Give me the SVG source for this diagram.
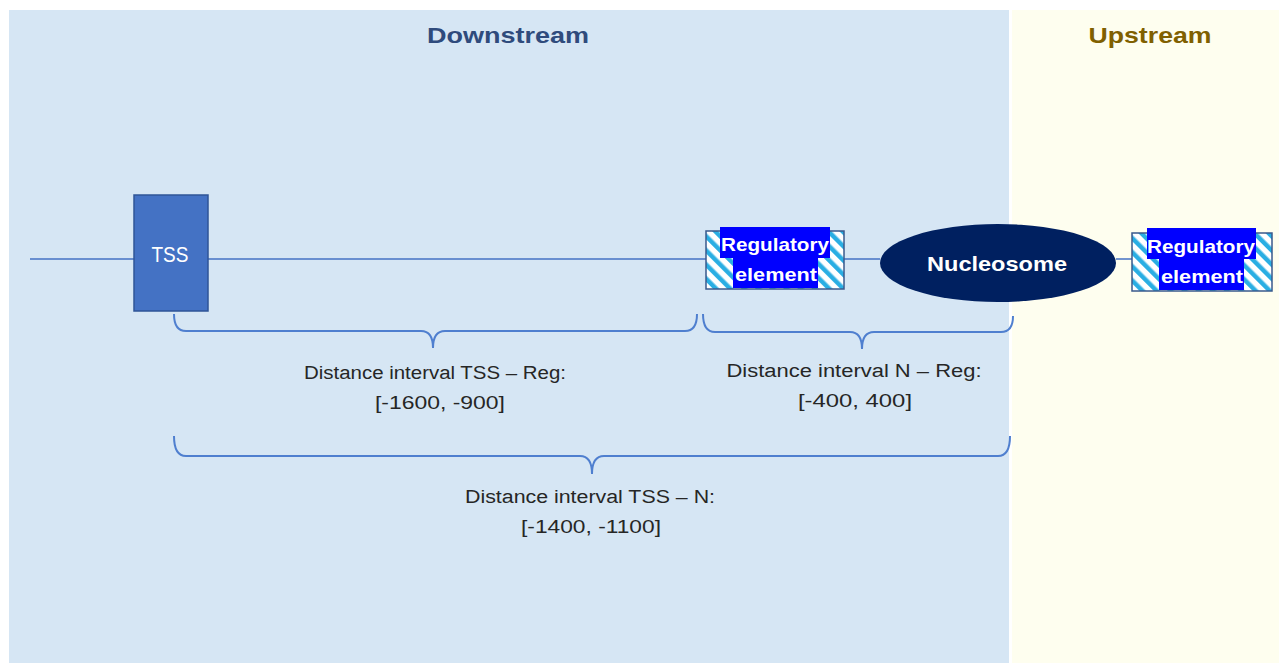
<svg xmlns="http://www.w3.org/2000/svg" width="1279" height="663" viewBox="0 0 1279 663">
<style>
.lbl{font-family:"Liberation Sans",Arial,sans-serif;font-size:18px;fill:#262626;text-anchor:middle}
.head{font-family:"Liberation Sans",Arial,sans-serif;font-size:22px;font-weight:bold;text-anchor:middle}
.wt{font-family:"Liberation Sans",Arial,sans-serif;fill:#ffffff;text-anchor:middle}
.brace{fill:none;stroke:#4F7FCF;stroke-width:2}
.line{stroke:#4472C4;stroke-width:1.5}
.hl{fill:#0000FF}
</style>
<defs>
<pattern id="hatch" patternUnits="userSpaceOnUse" width="10" height="10" patternTransform="rotate(-45)">
<rect width="10" height="10" fill="#ffffff"/>
<rect x="0" y="0" width="4.5" height="10" fill="#2AAEE3"/>
</pattern>
</defs>
<rect x="0" y="0" width="1279" height="663" fill="#ffffff"/>
<rect x="9" y="10" width="1000" height="653" fill="#D6E6F4"/>
<rect x="1012" y="10" width="267" height="653" fill="#FEFEEF"/>
<text class="head" x="508" y="43" fill="#2F4B7C" textLength="162" lengthAdjust="spacingAndGlyphs">Downstream</text>
<text class="head" x="1150" y="43" fill="#806000" textLength="123" lengthAdjust="spacingAndGlyphs">Upstream</text>
<g id="connectors">
<line class="line" x1="30" y1="259" x2="134" y2="259"/>
<line class="line" x1="208" y1="259" x2="706" y2="259"/>
<line class="line" x1="844" y1="259" x2="880" y2="259"/>
<line class="line" x1="1116" y1="259" x2="1132" y2="259"/>
<path class="brace" d="M174,314 Q174,331 186,331 L421,331 Q433,331 433,348 Q433,331 445,331 L685,331 Q697,331 697,314"/>
<path class="brace" d="M703,314 Q703,332 715,332 L850,332 Q862,332 862,349 Q862,332 874,332 L1001,332 Q1013,332 1013,316"/>
<path class="brace" d="M174,436 Q174,456 186,456 L580,456 Q592,456 592,474 Q592,456 604,456 L998,456 Q1010,456 1010,436"/>
</g>
<g id="tss">
<rect x="134" y="195" width="74" height="116" fill="#4472C4" stroke="#2F5597" stroke-width="1.5"/>
<text class="wt" x="170" y="262" font-size="22" textLength="37" lengthAdjust="spacingAndGlyphs">TSS</text>
</g>
<g id="reg1">
<rect x="706" y="231" width="138" height="58" fill="url(#hatch)" stroke="#3A5A8C" stroke-width="1.5"/>
<rect class="hl" x="720" y="227" width="110" height="31"/>
<rect class="hl" x="733" y="258" width="85" height="30"/>
<text class="wt" x="775" y="251" font-size="19" font-weight="bold" textLength="108" lengthAdjust="spacingAndGlyphs">Regulatory</text>
<text class="wt" x="776" y="281" font-size="19" font-weight="bold" textLength="82" lengthAdjust="spacingAndGlyphs">element</text>
</g>
<g id="nucleosome">
<ellipse cx="998" cy="263" rx="118" ry="39" fill="#002060"/>
<text class="wt" x="997" y="271" font-size="21" font-weight="bold" textLength="140" lengthAdjust="spacingAndGlyphs">Nucleosome</text>
</g>
<g id="reg2">
<rect x="1132" y="233" width="140" height="58" fill="url(#hatch)" stroke="#3A5A8C" stroke-width="1.5"/>
<rect class="hl" x="1147" y="228" width="109" height="31"/>
<rect class="hl" x="1159" y="259" width="85" height="31"/>
<text class="wt" x="1201" y="253" font-size="19" font-weight="bold" textLength="108" lengthAdjust="spacingAndGlyphs">Regulatory</text>
<text class="wt" x="1202" y="283" font-size="19" font-weight="bold" textLength="82" lengthAdjust="spacingAndGlyphs">element</text>
</g>
<g id="labels">
<text class="lbl" x="435" y="379" textLength="262" lengthAdjust="spacingAndGlyphs">Distance interval  TSS – Reg:</text>
<text class="lbl" x="440" y="409" textLength="130" lengthAdjust="spacingAndGlyphs">[-1600, -900]</text>
<text class="lbl" x="854" y="377" textLength="255" lengthAdjust="spacingAndGlyphs">Distance interval N – Reg:</text>
<text class="lbl" x="855" y="407" textLength="114" lengthAdjust="spacingAndGlyphs">[-400,  400]</text>
<text class="lbl" x="590" y="503" textLength="250" lengthAdjust="spacingAndGlyphs">Distance interval TSS – N:</text>
<text class="lbl" x="591" y="533" textLength="140" lengthAdjust="spacingAndGlyphs">[-1400, -1100]</text>
</g>
</svg>
